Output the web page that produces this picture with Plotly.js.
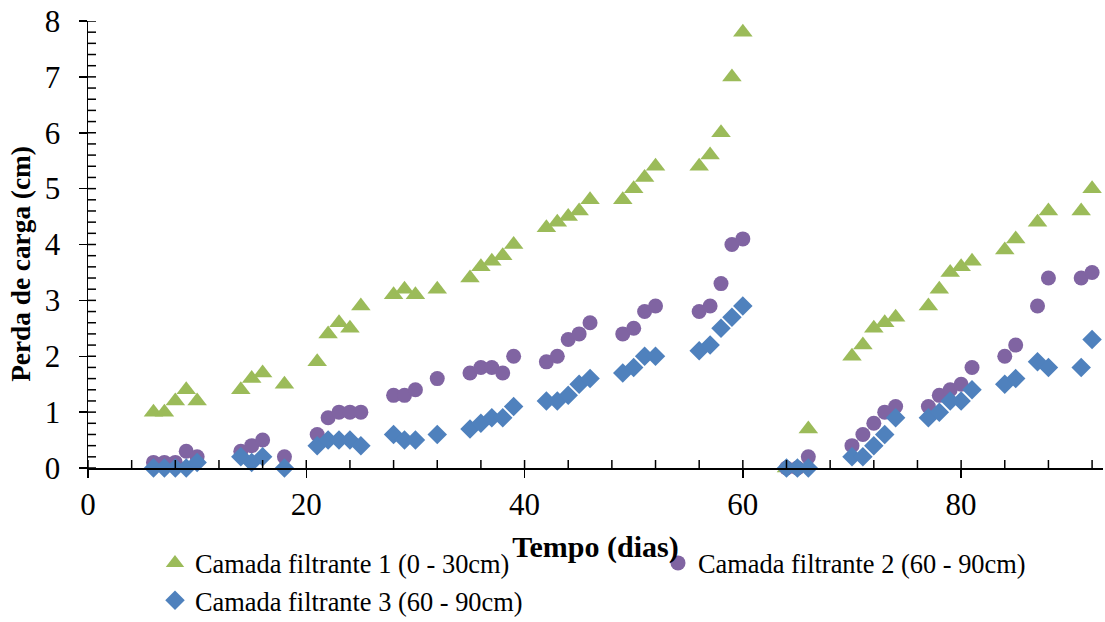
<!DOCTYPE html>
<html>
<head>
<meta charset="utf-8">
<script src="https://cdn.plot.ly/plotly-3.0.1.min.js"></script>
<style>
  html, body { margin: 0; padding: 0; background: #ffffff; }
  #chart { width: 1105px; height: 622px; }
</style>
</head>
<body>
<div id="chart"></div>
<script>
// Dias de operação e perda de carga (cm) por camada filtrante
const dias = [6, 7, 8, 9, 10, 14, 15, 16, 18, 21, 22, 23, 24, 25, 28, 29, 30, 32,
  35, 36, 37, 38, 39, 42, 43, 44, 45, 46, 49, 50, 51, 52, 56, 57, 58, 59, 60,
  64, 65, 66, 70, 71, 72, 73, 74, 77, 78, 79, 80, 81, 84, 85, 87, 88, 91, 92];

const camada1 = [1.0, 1.0, 1.2, 1.4, 1.2, 1.4, 1.6, 1.7, 1.5, 1.9, 2.4, 2.6, 2.5, 2.9, 3.1, 3.2, 3.1, 3.2,
  3.4, 3.6, 3.7, 3.8, 4.0, 4.3, 4.4, 4.5, 4.6, 4.8, 4.8, 5.0, 5.2, 5.4, 5.4, 5.6, 6.0, 7.0, 7.8,
  0.0, 0.0, 0.7, 2.0, 2.2, 2.5, 2.6, 2.7, 2.9, 3.2, 3.5, 3.6, 3.7, 3.9, 4.1, 4.4, 4.6, 4.6, 5.0];

const camada2 = [0.1, 0.1, 0.1, 0.3, 0.2, 0.3, 0.4, 0.5, 0.2, 0.6, 0.9, 1.0, 1.0, 1.0, 1.3, 1.3, 1.4, 1.6,
  1.7, 1.8, 1.8, 1.7, 2.0, 1.9, 2.0, 2.3, 2.4, 2.6, 2.4, 2.5, 2.8, 2.9, 2.8, 2.9, 3.3, 4.0, 4.1,
  0.0, 0.0, 0.2, 0.4, 0.6, 0.8, 1.0, 1.1, 1.1, 1.3, 1.4, 1.5, 1.8, 2.0, 2.2, 2.9, 3.4, 3.4, 3.5];

const camada3 = [0.0, 0.0, 0.0, 0.0, 0.1, 0.2, 0.1, 0.2, 0.0, 0.4, 0.5, 0.5, 0.5, 0.4, 0.6, 0.5, 0.5, 0.6,
  0.7, 0.8, 0.9, 0.9, 1.1, 1.2, 1.2, 1.3, 1.5, 1.6, 1.7, 1.8, 2.0, 2.0, 2.1, 2.2, 2.5, 2.7, 2.9,
  0.0, 0.0, 0.0, 0.2, 0.2, 0.4, 0.6, 0.9, 0.9, 1.0, 1.2, 1.2, 1.4, 1.5, 1.6, 1.9, 1.8, 1.8, 2.3];

const nomes = [
  'Camada filtrante 1 (0 - 30cm)',
  'Camada filtrante 2 (60 - 90cm)',
  'Camada filtrante 3 (60 - 90cm)'
];

const tituloX = 'Tempo (dias)';
const tituloY = 'Perda de carga (cm)';

const fonte = '"Liberation Serif", "Times New Roman", Times, serif';

// intervalos dos eixos
const xMax = 93, xPasso = 20, xPassoMenor = 4;
const yMax = 8, yPasso = 1, yPassoMenor = 0.2;

const traces = [
  {
    x: dias, y: camada1, name: nomes[0], type: 'scatter', mode: 'markers',
    cliponaxis: false,
    marker: { symbol: 'triangle-up', size: 17, color: '#9BBB59', line: { width: 0 } }
  },
  {
    x: dias, y: camada2, name: nomes[1], type: 'scatter', mode: 'markers',
    cliponaxis: false,
    marker: { symbol: 'circle', size: 15, color: '#8064A2', line: { width: 0 } }
  },
  {
    x: dias, y: camada3, name: nomes[2], type: 'scatter', mode: 'markers',
    cliponaxis: false,
    marker: { symbol: 'diamond', size: 15, color: '#4F81BD', line: { width: 0 } }
  }
];

// marcas internas dos eixos (a cada intervalo secundário), em unidades do eixo + comprimento em pixels
const marcasInternas = [];
for (let i = 0; i * xPassoMenor <= xMax; i++) {
  const v = i * xPassoMenor;
  marcasInternas.push({
    type: 'line', layer: 'above',
    xref: 'x', x0: v, x1: v,
    yref: 'y', ysizemode: 'pixel', yanchor: 0, y0: 0, y1: 8,
    line: { color: '#000', width: 1.5 }
  });
}
for (let j = 0; j <= Math.round(yMax / yPassoMenor); j++) {
  const v = +(j * yPassoMenor).toFixed(2);
  marcasInternas.push({
    type: 'line', layer: 'above',
    yref: 'y', y0: v, y1: v,
    xref: 'x', xsizemode: 'pixel', xanchor: 0, x0: 0, x1: 8,
    line: { color: '#000', width: 1.5 }
  });
}

const layout = {
  width: 1105,
  height: 622,
  margin: { l: 88, r: 2, t: 21, b: 154, autoexpand: false },
  paper_bgcolor: '#ffffff',
  plot_bgcolor: '#ffffff',
  font: { family: fonte, color: '#000000' },
  showlegend: true,
  xaxis: {
    range: [0, xMax],
    tick0: 0, dtick: xPasso,
    ticks: 'outside', ticklen: 8, tickwidth: 1.5, tickcolor: '#000',
    showline: true, linecolor: '#000', linewidth: 1.5,
    showgrid: false, zeroline: false,
    ticklabelstandoff: 0,
    tickfont: { family: fonte, size: 31, color: '#000' },
    title: { text: '<b>' + tituloX + '</b>', font: { family: fonte, size: 30, color: '#000' }, standoff: 15 },
    automargin: false
  },
  yaxis: {
    range: [0, yMax],
    tick0: 0, dtick: yPasso,
    ticks: 'outside', ticklen: 8, tickwidth: 1.5, tickcolor: '#000',
    showline: true, linecolor: '#000', linewidth: 1.5,
    showgrid: false, zeroline: false,
    ticklabelstandoff: 12,
    tickfont: { family: fonte, size: 31, color: '#000' },
    automargin: false
  },
  shapes: marcasInternas,
  annotations: [
    {
      text: '<b>' + tituloY + '</b>',
      xref: 'paper', yref: 'paper',
      x: -0.0655, y: 0.4557,
      xanchor: 'center', yanchor: 'middle',
      textangle: -90, showarrow: false,
      font: { family: fonte, size: 27.3, color: '#000' }
    }
  ],
  legend: {
    orientation: 'h',
    x: 0.066, xanchor: 'left',
    y: -0.1594, yanchor: 'top',
    entrywidth: 458,
    font: { family: fonte, size: 26.4, color: '#000' },
    bgcolor: 'rgba(0,0,0,0)',
    borderwidth: 0,
    itemclick: false
  }
};

Plotly.newPlot('chart', traces, layout, { displayModeBar: false, staticPlot: true });
</script>
</body>
</html>
